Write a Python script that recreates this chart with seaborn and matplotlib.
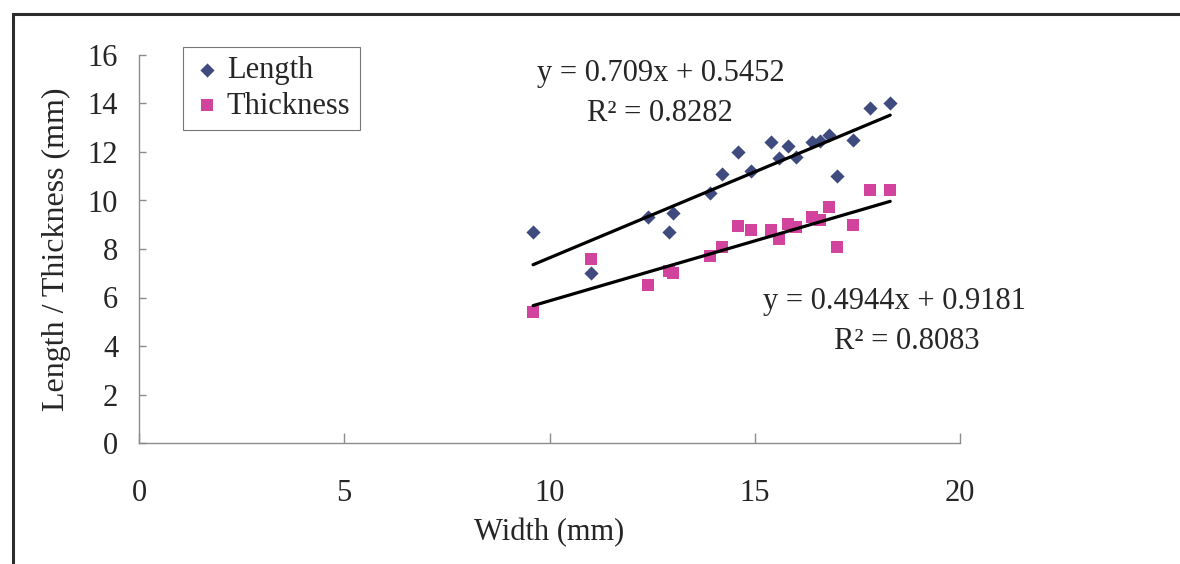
import numpy as np
import pandas as pd
import matplotlib
matplotlib.use("Agg")
import matplotlib.pyplot as plt
import seaborn as sns
from matplotlib.patches import Rectangle

width = [9.6, 11.0, 12.4, 12.9, 13.0, 13.9, 14.2, 14.6, 14.9, 15.4,
         15.6, 15.8, 16.0, 16.4, 16.6, 16.8, 17.0, 17.4, 17.8, 18.3]
length = [8.7, 7.0, 9.3, 8.7, 9.5, 10.3, 11.1, 12.0, 11.2, 12.4,
          11.75, 12.25, 11.8, 12.4, 12.45, 12.7, 11.0, 12.5, 13.8, 14.0]
thickness = [5.4, 7.6, 6.5, 7.1, 7.0, 7.7, 8.1, 8.95, 8.8, 8.8,
             8.4, 9.05, 8.9, 9.3, 9.2, 9.75, 8.1, 9.0, 10.45, 10.45]

# published linear fits
fit_slope = {"Length": 0.709, "Thickness": 0.4944}
fit_intercept = {"Length": 0.5452, "Thickness": 0.9181}
fit_r2 = {"Length": "0.8282", "Thickness": "0.8083"}

x_ticks = [0, 5, 10, 15, 20]
y_ticks = [0, 2, 4, 6, 8, 10, 12, 14, 16]

df = pd.DataFrame({"Width": width, "Length": length, "Thickness": thickness})

sns.set_theme(style="white")
plt.rcParams["font.family"] = ["Liberation Serif", "DejaVu Serif"]
FS = 22
AX_GRAY = "#8c8c8c"

fig = plt.figure(figsize=(11.8, 5.64), dpi=100)
ax = fig.add_axes([139 / 1180, 121 / 564, 821 / 1180, 388 / 564])

# outer frame (top + left visible)
fig.add_artist(Rectangle((13 / 1180, -0.2), 1.2, 0.2 + (564 - 14) / 564,
                         transform=fig.transFigure, fill=False,
                         edgecolor="#2b2b2b", linewidth=2.2))

sns.scatterplot(data=df, x="Width", y="Length", marker="D", s=52,
                color="#3f4a7e", linewidth=0, label="Length", ax=ax, zorder=3)
sns.scatterplot(data=df, x="Width", y="Thickness", marker="s", s=82,
                color="#d2439e", linewidth=0, label="Thickness", ax=ax, zorder=3)

# trend lines from the fit coefficients
x_fit = np.array([min(width), max(width)])
for name in ["Length", "Thickness"]:
    sns.lineplot(x=x_fit, y=fit_slope[name] * x_fit + fit_intercept[name],
                 color="black", linewidth=2.3, ax=ax, legend=False, zorder=4)

ax.text(12.7, 15.25, "y = 0.709x + 0.5452", ha="center", va="center", fontsize=FS)
ax.text(12.7, 13.6, "R² = " + fit_r2["Length"], ha="center", va="center", fontsize=FS)
ax.text(18.4, 5.85, "y = 0.4944x + 0.9181", ha="center", va="center", fontsize=FS)
ax.text(18.7, 4.2, "R² = " + fit_r2["Thickness"], ha="center", va="center", fontsize=FS)

ax.set_xlim(0, 20)
ax.set_ylim(0, 16)
ax.set_xticks(x_ticks)
ax.set_yticks(y_ticks)
ax.set_xlabel("Width (mm)", fontsize=FS, labelpad=7)
ax.set_ylabel("Length / Thickness (mm)", fontsize=23, labelpad=12)

for side in ["top", "right"]:
    ax.spines[side].set_visible(False)
for side in ["left", "bottom"]:
    ax.spines[side].set_color(AX_GRAY)
    ax.spines[side].set_linewidth(1.0)
ax.tick_params(axis="x", direction="in", length=7, width=1, color=AX_GRAY,
               pad=26, labelsize=FS, bottom=True)
ax.tick_params(axis="y", direction="in", length=5, width=1, color=AX_GRAY,
               pad=15, labelsize=FS, left=True)

leg = ax.legend(loc="upper left", bbox_to_anchor=(0.053, 1.02), fontsize=FS,
                frameon=True, fancybox=False, framealpha=1, borderpad=0.3,
                labelspacing=0.2, handletextpad=0.15, handlelength=1.0,
                borderaxespad=0)
leg.get_frame().set_edgecolor("#777777")
leg.get_frame().set_linewidth(0.8)

fig.savefig("out.png", dpi=100)
